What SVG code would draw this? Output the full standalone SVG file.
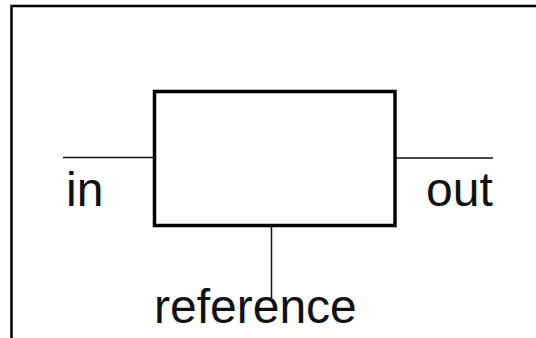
<svg xmlns="http://www.w3.org/2000/svg" width="536" height="338" viewBox="0 0 536 338">
<style>
.lbl{font-family:"Liberation Sans",Arial,sans-serif;font-size:48px;fill:#111}
.wire{stroke:#111;stroke-width:1.5;fill:none}
</style>
<rect x="0" y="0" width="536" height="338" fill="#fff"/>
<path d="M11.5,338 V6 H536" fill="none" stroke="#000" stroke-width="2.5"/>
<g id="connectors">
<line class="wire" x1="63" y1="157.5" x2="153" y2="157.5"/>
<line class="wire" x1="396" y1="158" x2="493" y2="158"/>
<line class="wire" x1="271.5" y1="227" x2="271.5" y2="300"/>
</g>
<g id="box">
<rect x="154.5" y="91.5" width="240.5" height="134" fill="#fff" stroke="#000" stroke-width="3.5"/>
</g>
<g id="in"><text class="lbl" x="66" y="206">in</text></g>
<g id="out"><text class="lbl" x="426" y="206">out</text></g>
<g id="reference"><text class="lbl" x="154" y="323">reference</text></g>
</svg>
